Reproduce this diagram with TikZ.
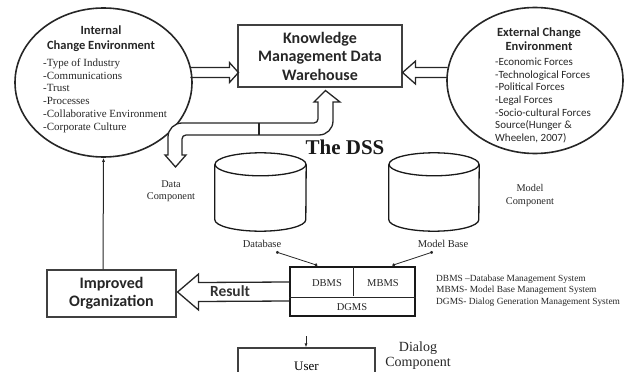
\documentclass[tikz,border=0pt]{standalone}
\usepackage{fontspec}
\setmainfont{Liberation Serif}
\newfontfamily\carl{Carlito}
\usetikzlibrary{arrows.meta,calc,shapes.geometric}
\begin{document}
\begin{tikzpicture}[x=1pt,y=-1pt,
  ell/.style={ellipse, draw=black!85, line width=1.6pt, inner sep=0},
  box/.style={rectangle, draw=black!75, line width=1.1pt, inner sep=0},
  hd/.style={font=\carl\bfseries\fontsize{12.5}{14.5}\selectfont, align=center, inner sep=0, text=black!85},
  lst/.style={align=left, inner sep=0, anchor=west, text=black!85},
  lbl/.style={font=\fontsize{10.3}{12.2}\selectfont, align=center, inner sep=0, text=black!85},
  harr/.style={draw=black!85, line width=1.3pt, line join=miter},
  cyl/.style={draw=black!90, line width=1.3pt},
  thin/.style={draw=black!85, line width=0.8pt},
]
\useasboundingbox (0,0) rectangle (625,372);

% ---------- ellipses ----------
\node[ell, minimum width=177, minimum height=149] (ellL) at (103.5,82.5) {};
\node[hd] (intH) at (101,38.5) {Internal\\Change Environment};
\node[lst, font=\fontsize{11}{12.8}\selectfont] (intL) at (43,95.5)
  {-Type of Industry\\-Communications\\-Trust\\-Processes\\-Collaborative Environment\\-Corporate Culture};

\node[ell, minimum width=176, minimum height=146] (ellR) at (535,80.5) {};
\node[hd, font=\carl\bfseries\fontsize{12.5}{14}\selectfont] (extH) at (539,39) {External Change\\Environment};
\node[lst, font=\carl\fontsize{11}{12.7}\selectfont] (extL) at (495,100.5)
  {-Economic Forces\\-Technological Forces\\-Political Forces\\-Legal Forces\\-Socio-cultural Forces\\Source(Hunger \&\\Wheelen, 2007)};

% ---------- KM warehouse ----------
\node[box, minimum width=164, minimum height=62, align=center,
      font=\carl\bfseries\fontsize{16}{18.5}\selectfont, text=black!85] (km) at (320,56)
  {Knowledge\\Management Data\\Warehouse};

% hollow arrows into KM box
\coordinate (t1) at ($(km.south west)+(1,-15)$);
\draw[harr] ($(t1)+(-48,-5)$) -- ($(t1)+(-9,-5)$) -- ($(t1)+(-9,-10)$) -- (t1)
  -- ($(t1)+(-9,10)$) -- ($(t1)+(-9,5)$) -- ($(t1)+(-48,5)$);
\coordinate (t2) at ($(km.south east)+(0,-15)$);
\draw[harr] ($(t2)+(45,-5)$) -- ($(t2)+(13,-5)$) -- ($(t2)+(13,-11.5)$) -- (t2)
  -- ($(t2)+(13,11.5)$) -- ($(t2)+(13,5)$) -- ($(t2)+(45,5)$);

% ---------- DSS double U arrow ----------
\coordinate (uTip) at ($(km.south)+(5.5,3)$);
\draw[harr, fill=white] (259,123) [rounded corners=4pt] -- (318,123) -- (318,112)
  [sharp corners] -- (318,102) -- (314,102) -- (uTip) -- (340,102) -- (333,102) -- (333,112)
  [rounded corners=14pt] -- (333,135) -- (259,135)
  [rounded corners=4pt] -- (182,135) -- (182,145)
  [sharp corners] -- (182,155) -- (186,155) -- (175.5,167) -- (165,155) -- (168,155) -- (168,145)
  [rounded corners=14pt] -- (168,123) -- cycle;
\draw[harr, line width=1.1pt] (259,123) -- (259,135);

\node[inner sep=0, font=\bfseries\fontsize{21}{24}\selectfont, text=black!90] (dssT) at (345,147) {The DSS};

% ---------- cylinders ----------
\node[inner sep=0, minimum width=91, minimum height=78] (db) at (260.5,192) {};
\draw[cyl] ($(db.north)+(0,11.5)$) ellipse [x radius=45.5pt, y radius=11.5pt];
\draw[cyl] ($(db.north west)+(0,11.5)$) -- ($(db.south west)+(0,-11.5)$)
  arc[start angle=180, end angle=360, x radius=45.5pt, y radius=11.5pt] -- ($(db.north east)+(0,11.5)$);

\node[inner sep=0, minimum width=90, minimum height=78] (mb) at (434,192) {};
\draw[cyl] ($(mb.north)+(0,11.5)$) ellipse [x radius=45pt, y radius=11.5pt];
\draw[cyl] ($(mb.north west)+(0,11.5)$) -- ($(mb.south west)+(0,-11.5)$)
  arc[start angle=180, end angle=360, x radius=45pt, y radius=11.5pt] -- ($(mb.north east)+(0,11.5)$);

\node[lbl] (dataC) at (171,191) {Data\\Component};
\node[lbl] (modelC) at (530,195.5) {Model\\Component};
\node[lbl, font=\fontsize{10.5}{12}\selectfont] (dbl) at (262,244) {Database};
\node[lbl, font=\fontsize{10.5}{12}\selectfont] (mbl) at (443,244) {Model Base};

% ---------- DSS box ----------
\node[box, minimum width=125, minimum height=49, line width=1.3pt, draw=black!90] (dss) at (352.5,291.5) {};
\draw[thin] ($(dss.west)+(0,5.5)$) -- ($(dss.east)+(0,5.5)$);
\draw[thin] ($(dss.north)+(0.5,0)$) -- ($(dss.north)+(0.5,30)$);
\node[lbl, font=\fontsize{10.5}{12}\selectfont] (dbms) at (327,283) {DBMS};
\node[lbl, font=\fontsize{10.5}{12}\selectfont] (mbms) at (383,283) {MBMS};
\node[lbl, font=\fontsize{10.5}{12}\selectfont] (dgms) at (352,307) {DGMS};

\draw[thin, {Circle[length=3pt]}-{Circle[length=3pt]}] ($(dbl.south)+(14,4)$) -- ($(dss.north west)+(28,-1)$);
\draw[thin, {Circle[length=3pt]}-{Circle[length=3pt]}] ($(mbl.south)+(-10,4)$) -- ($(dss.north west)+(103,-1)$);

% ---------- Improved organization & result ----------
\node[box, minimum width=129, minimum height=47, align=center,
      font=\carl\bfseries\fontsize{16}{18}\selectfont, text=black!85] (impr) at (111.5,293.5)
  {Improved\\Organization};
\coordinate (t3) at ($(impr.east)+(1,-1.5)$);
\draw[harr] ($(dss.west)+(0,-9.5)$) -- ($(t3)+(21,-9.5)$) -- ($(t3)+(21,-18)$) -- (t3)
  -- ($(t3)+(21,18)$) -- ($(t3)+(21,9.5)$) -- ($(dss.west)+(0,9.5)$);
\node[inner sep=0, font=\carl\bfseries\fontsize{15.5}{18}\selectfont, text=black!80] (res) at (230,291) {Result};

\draw[thin, line width=1pt, -{Latex[length=4pt,width=3pt]}] ($(impr.north)+(-8.5,0)$) -- (ellL.south);

% ---------- user ----------
\node[box, minimum width=137, minimum height=36, line width=1.2pt] (user) at (306.5,366)
  {\fontsize{13}{15}\selectfont User};
\coordinate (ua) at ($(user.north)+(-0.5,-11)$);
\draw[thin, line width=1pt, -{Latex[length=4pt,width=3pt]}] (ua) -- ($(user.north)+(-0.5,0)$);

\node[inner sep=0, align=center, font=\fontsize{14}{15.5}\selectfont, text=black!85] (dial) at (418,355.5) {Dialog\\Component};

\node[lst, font=\fontsize{9.4}{11.5}\selectfont] (leg) at (436,290.5)
  {DBMS --Database Management System\\MBMS- Model Base Management System\\DGMS- Dialog Generation Management System};
\end{tikzpicture}
\end{document}
